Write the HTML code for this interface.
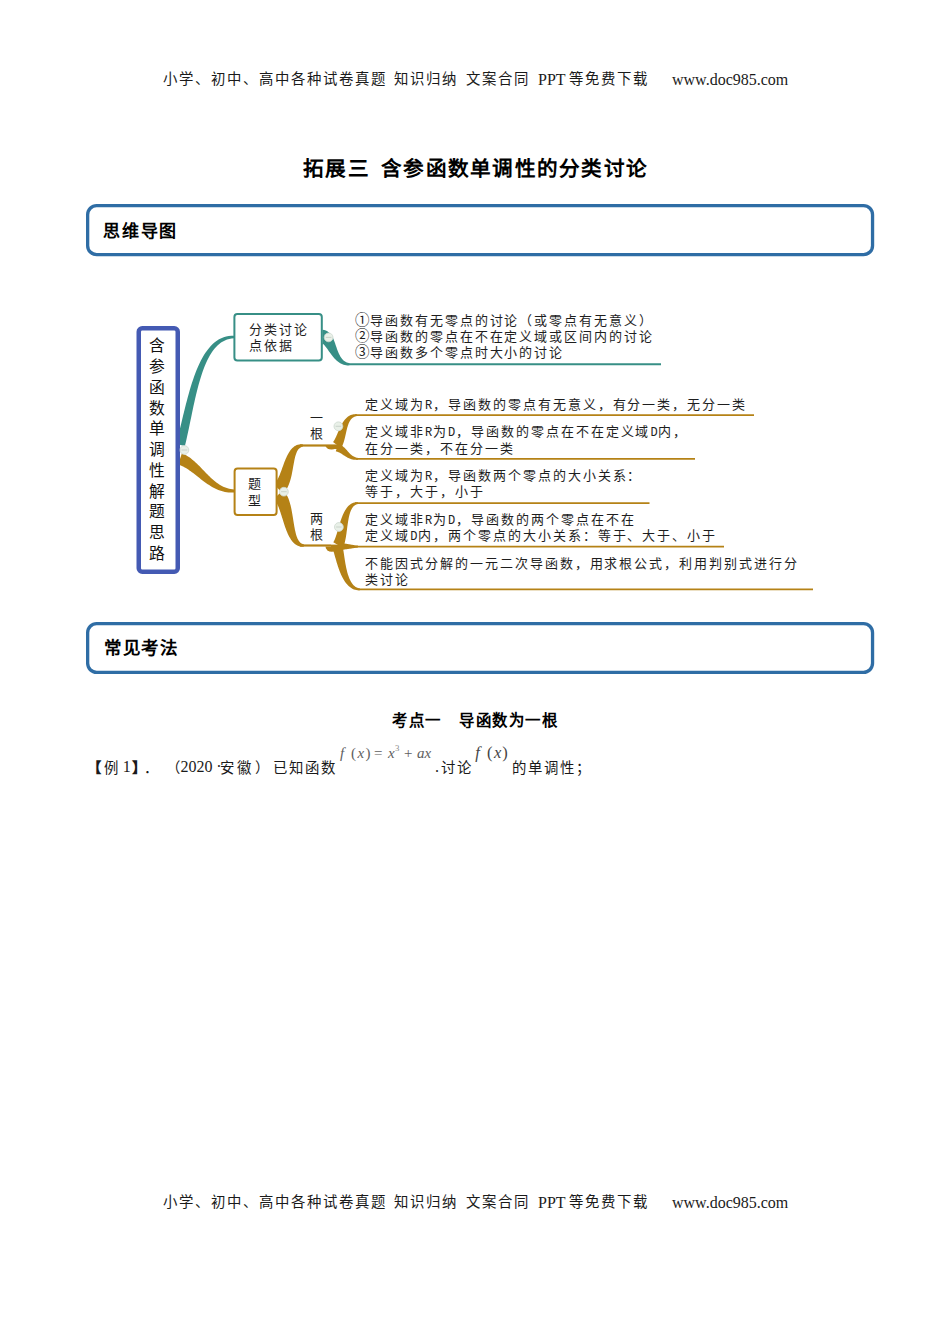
<!DOCTYPE html>
<html lang="zh-CN"><head><meta charset="utf-8"><title>拓展三 含参函数单调性的分类讨论</title>
<style>
html,body{margin:0;padding:0;background:#fff;}
body{width:950px;height:1344px;position:relative;overflow:hidden;font-family:"Liberation Serif", serif;}
.mm{position:absolute;left:0;top:0;}
.t{position:absolute;white-space:pre;color:#000;}
.m{font-family:"Liberation Mono", monospace;font-size:12px;letter-spacing:0;display:inline-block;width:8px;}
.c{display:inline-block;width:14.95px;font-size:14.5px;letter-spacing:0;}
.f{font-family:"Liberation Serif", serif;color:#555;white-space:nowrap;}
.f sup{font-size:8px;vertical-align:6px;line-height:0;}
</style></head><body>
<svg class="mm" width="950" height="1344" viewBox="0 0 950 1344">
<rect x="87.65" y="205.65" width="784.9" height="49" rx="9" fill="none" stroke="#2f6da5" stroke-width="3.3"/>
<rect x="87.65" y="623.65" width="784.9" height="48.7" rx="9" fill="none" stroke="#2f6da5" stroke-width="3.3"/>
<path d="M184.86,446.11 L185.70,442.66 L186.51,439.16 L187.30,435.60 L188.08,432.01 L188.85,428.38 L189.61,424.73 L190.37,421.07 L191.13,417.39 L191.89,413.71 L192.66,410.03 L193.44,406.37 L194.24,402.73 L195.05,399.11 L195.88,395.53 L196.73,391.99 L197.62,388.50 L198.52,385.07 L199.47,381.70 L200.44,378.41 L201.45,375.19 L202.51,372.06 L203.60,369.03 L204.75,366.10 L205.94,363.28 L207.18,360.58 L208.47,358.00 L209.82,355.55 L211.23,353.24 L212.69,351.07 L214.23,349.06 L215.82,347.20 L217.49,345.50 L219.23,343.96 L221.04,342.60 L222.94,341.41 L224.94,340.40 L227.03,339.57 L229.24,338.94 L231.56,338.51 L234.00,338.30 L234.00,335.70 L231.30,335.72 L228.68,335.98 L226.14,336.48 L223.68,337.22 L221.30,338.18 L219.02,339.36 L216.82,340.75 L214.71,342.33 L212.69,344.09 L210.76,346.04 L208.91,348.14 L207.14,350.41 L205.44,352.82 L203.82,355.36 L202.27,358.04 L200.78,360.83 L199.36,363.74 L197.99,366.75 L196.68,369.86 L195.42,373.06 L194.21,376.34 L193.04,379.69 L191.91,383.11 L190.82,386.59 L189.77,390.11 L188.75,393.69 L187.76,397.29 L186.79,400.93 L185.84,404.58 L184.92,408.25 L184.01,411.92 L183.11,415.59 L182.23,419.25 L181.35,422.88 L180.48,426.50 L179.62,430.07 L178.75,433.61 L177.88,437.09 L177.01,440.52 L176.14,443.89 Z" fill="#378f86"/>
<path d="M322.50,344.70 L322.15,344.44 L321.86,344.17 L321.69,343.90 L321.66,343.67 L321.77,343.53 L322.00,343.50 L322.34,343.58 L322.75,343.80 L323.22,344.12 L323.73,344.56 L324.27,345.09 L324.83,345.71 L325.41,346.41 L326.01,347.17 L326.62,347.98 L327.24,348.85 L327.88,349.75 L328.53,350.69 L329.20,351.64 L329.88,352.62 L330.59,353.61 L331.31,354.59 L332.06,355.58 L332.83,356.56 L333.63,357.52 L334.47,358.46 L335.33,359.37 L336.23,360.24 L337.17,361.07 L338.14,361.85 L339.16,362.57 L340.22,363.23 L341.31,363.81 L342.45,364.31 L343.62,364.72 L344.83,365.04 L346.08,365.26 L347.35,365.38 L348.66,365.39 L350.00,365.30 L350.00,363.30 L348.85,363.11 L347.78,362.83 L346.79,362.47 L345.88,362.04 L345.03,361.55 L344.25,361.00 L343.51,360.39 L342.83,359.73 L342.19,359.03 L341.59,358.28 L341.02,357.49 L340.49,356.65 L339.98,355.78 L339.49,354.87 L339.03,353.93 L338.59,352.96 L338.17,351.97 L337.76,350.96 L337.37,349.93 L336.99,348.88 L336.62,347.83 L336.26,346.76 L335.89,345.70 L335.53,344.63 L335.17,343.56 L334.79,342.50 L334.41,341.44 L334.00,340.39 L333.57,339.35 L333.10,338.31 L332.58,337.27 L332.00,336.24 L331.34,335.21 L330.57,334.20 L329.66,333.20 L328.58,332.25 L327.32,331.37 L325.87,330.62 L324.24,330.06 L322.50,329.70 Z" fill="#378f86"/>
<path d="M350,363.3 L661,363.3 L661,365.3 L350,365.3 Z" fill="#378f86"/>
<path d="M178.10,464.69 L179.17,465.00 L180.25,465.36 L181.36,465.78 L182.47,466.27 L183.61,466.82 L184.76,467.44 L185.92,468.10 L187.10,468.83 L188.29,469.60 L189.49,470.43 L190.70,471.29 L191.92,472.19 L193.16,473.12 L194.41,474.09 L195.67,475.07 L196.94,476.08 L198.22,477.10 L199.53,478.12 L200.84,479.15 L202.18,480.18 L203.53,481.20 L204.90,482.21 L206.29,483.20 L207.70,484.17 L209.13,485.12 L210.59,486.03 L212.08,486.90 L213.59,487.74 L215.13,488.52 L216.70,489.25 L218.29,489.92 L219.92,490.53 L221.57,491.06 L223.26,491.53 L224.97,491.91 L226.72,492.21 L228.49,492.43 L230.30,492.55 L232.13,492.57 L234.00,492.50 L234.00,489.50 L232.31,489.33 L230.68,489.07 L229.10,488.74 L227.57,488.32 L226.08,487.83 L224.64,487.27 L223.24,486.65 L221.87,485.97 L220.54,485.23 L219.24,484.44 L217.97,483.60 L216.72,482.71 L215.49,481.78 L214.28,480.80 L213.09,479.80 L211.92,478.75 L210.75,477.68 L209.60,476.58 L208.46,475.46 L207.32,474.32 L206.19,473.16 L205.07,471.99 L203.94,470.82 L202.81,469.63 L201.67,468.45 L200.53,467.27 L199.37,466.09 L198.21,464.93 L197.03,463.77 L195.83,462.64 L194.60,461.52 L193.35,460.44 L192.07,459.38 L190.75,458.35 L189.40,457.37 L188.00,456.43 L186.56,455.55 L185.06,454.73 L183.51,453.98 L181.90,453.31 Z" fill="#b58216"/>
<path d="M282.99,493.70 L284.16,492.46 L285.21,491.16 L286.15,489.80 L286.99,488.40 L287.75,486.97 L288.42,485.51 L289.03,484.03 L289.57,482.53 L290.07,481.02 L290.52,479.49 L290.93,477.96 L291.30,476.42 L291.65,474.88 L291.97,473.35 L292.27,471.82 L292.56,470.30 L292.83,468.80 L293.09,467.31 L293.35,465.85 L293.60,464.41 L293.86,463.00 L294.12,461.63 L294.38,460.31 L294.65,459.02 L294.94,457.78 L295.24,456.60 L295.55,455.47 L295.88,454.41 L296.24,453.40 L296.61,452.47 L297.01,451.59 L297.44,450.79 L297.90,450.04 L298.40,449.36 L298.95,448.74 L299.57,448.17 L300.27,447.67 L301.07,447.23 L301.97,446.87 L303.00,446.60 L303.00,444.40 L301.70,444.25 L300.41,444.25 L299.14,444.39 L297.90,444.67 L296.70,445.10 L295.54,445.66 L294.44,446.35 L293.39,447.15 L292.40,448.05 L291.47,449.03 L290.59,450.10 L289.77,451.23 L288.99,452.41 L288.25,453.66 L287.56,454.94 L286.90,456.27 L286.27,457.63 L285.66,459.01 L285.08,460.42 L284.52,461.84 L283.98,463.27 L283.45,464.71 L282.92,466.14 L282.41,467.57 L281.90,468.99 L281.39,470.38 L280.89,471.75 L280.38,473.08 L279.86,474.38 L279.34,475.63 L278.81,476.83 L278.28,477.97 L277.74,479.05 L277.20,480.05 L276.65,480.97 L276.10,481.81 L275.56,482.57 L275.03,483.23 L274.51,483.81 L274.01,484.30 Z" fill="#b58216"/>
<path d="M273.90,499.10 L274.37,499.58 L274.88,500.19 L275.41,500.92 L275.96,501.77 L276.52,502.73 L277.08,503.81 L277.64,504.98 L278.20,506.25 L278.74,507.60 L279.28,509.02 L279.82,510.51 L280.34,512.05 L280.87,513.64 L281.39,515.27 L281.91,516.94 L282.43,518.62 L282.96,520.32 L283.50,522.03 L284.05,523.74 L284.61,525.45 L285.19,527.15 L285.79,528.82 L286.41,530.47 L287.07,532.09 L287.75,533.67 L288.47,535.20 L289.23,536.68 L290.04,538.10 L290.89,539.45 L291.80,540.72 L292.76,541.90 L293.79,542.99 L294.88,543.97 L296.04,544.82 L297.26,545.53 L298.54,546.09 L299.87,546.48 L301.22,546.69 L302.60,546.73 L304.00,546.60 L304.00,544.40 L302.92,544.12 L301.97,543.73 L301.13,543.25 L300.39,542.68 L299.73,542.03 L299.12,541.31 L298.57,540.50 L298.06,539.61 L297.58,538.64 L297.12,537.58 L296.70,536.44 L296.30,535.22 L295.93,533.92 L295.57,532.55 L295.24,531.12 L294.92,529.63 L294.62,528.08 L294.32,526.49 L294.04,524.85 L293.77,523.17 L293.49,521.47 L293.22,519.74 L292.95,517.99 L292.66,516.22 L292.37,514.45 L292.06,512.67 L291.74,510.89 L291.39,509.12 L291.01,507.36 L290.61,505.62 L290.16,503.89 L289.68,502.19 L289.14,500.51 L288.54,498.87 L287.88,497.25 L287.14,495.68 L286.31,494.15 L285.37,492.66 L284.30,491.24 L283.10,489.90 Z" fill="#b58216"/>
<path d="M300,444.4 L331,444.4 L331,446.6 L300,446.6 Z" fill="#b58216"/>
<path d="M300,544.4 L331,544.4 L331,546.6 L300,546.6 Z" fill="#b58216"/>
<path d="M341.00,448.00 L341.59,447.11 L342.10,446.19 L342.55,445.25 L342.96,444.30 L343.33,443.33 L343.67,442.35 L343.98,441.36 L344.26,440.37 L344.53,439.36 L344.79,438.34 L345.03,437.32 L345.26,436.30 L345.49,435.28 L345.72,434.26 L345.94,433.24 L346.17,432.23 L346.39,431.23 L346.62,430.24 L346.86,429.26 L347.11,428.31 L347.37,427.37 L347.63,426.45 L347.92,425.56 L348.21,424.70 L348.53,423.87 L348.86,423.07 L349.21,422.31 L349.58,421.58 L349.97,420.89 L350.39,420.23 L350.84,419.62 L351.32,419.05 L351.84,418.51 L352.40,418.02 L353.01,417.57 L353.67,417.16 L354.40,416.81 L355.19,416.51 L356.06,416.27 L357.00,416.10 L357.00,414.30 L355.89,414.21 L354.81,414.21 L353.76,414.30 L352.73,414.47 L351.73,414.74 L350.76,415.08 L349.82,415.51 L348.92,416.02 L348.06,416.59 L347.23,417.23 L346.45,417.93 L345.70,418.67 L344.99,419.47 L344.32,420.30 L343.68,421.17 L343.07,422.07 L342.49,423.00 L341.93,423.95 L341.40,424.91 L340.89,425.89 L340.40,426.89 L339.93,427.88 L339.48,428.88 L339.03,429.88 L338.61,430.87 L338.19,431.85 L337.78,432.82 L337.38,433.77 L336.98,434.69 L336.59,435.59 L336.20,436.46 L335.82,437.29 L335.44,438.08 L335.06,438.82 L334.69,439.51 L334.32,440.14 L333.96,440.71 L333.62,441.21 L333.29,441.64 L333.00,442.00 Z" fill="#b58216"/>
<path d="M335.81,451.32 L336.24,451.43 L336.68,451.54 L337.11,451.67 L337.54,451.82 L337.98,451.98 L338.41,452.16 L338.85,452.36 L339.30,452.57 L339.74,452.80 L340.20,453.05 L340.65,453.31 L341.12,453.58 L341.59,453.87 L342.06,454.17 L342.54,454.48 L343.03,454.80 L343.52,455.13 L344.02,455.46 L344.53,455.79 L345.05,456.12 L345.58,456.45 L346.11,456.78 L346.66,457.10 L347.22,457.42 L347.79,457.72 L348.38,458.01 L348.98,458.29 L349.59,458.55 L350.21,458.79 L350.85,459.02 L351.50,459.21 L352.17,459.39 L352.85,459.53 L353.54,459.65 L354.25,459.74 L354.97,459.80 L355.70,459.82 L356.45,459.82 L357.22,459.78 L358.00,459.70 L358.00,457.90 L357.31,457.79 L356.65,457.66 L356.02,457.49 L355.43,457.30 L354.86,457.09 L354.32,456.86 L353.81,456.61 L353.32,456.34 L352.85,456.06 L352.40,455.76 L351.97,455.44 L351.55,455.11 L351.14,454.77 L350.74,454.41 L350.35,454.05 L349.96,453.67 L349.58,453.28 L349.20,452.88 L348.83,452.47 L348.45,452.06 L348.07,451.63 L347.69,451.20 L347.30,450.76 L346.91,450.31 L346.51,449.86 L346.09,449.41 L345.67,448.96 L345.23,448.50 L344.78,448.05 L344.30,447.59 L343.81,447.14 L343.30,446.70 L342.76,446.27 L342.19,445.84 L341.60,445.43 L340.98,445.03 L340.33,444.65 L339.65,444.30 L338.94,443.97 L338.19,443.68 Z" fill="#b58216"/>
<path d="M355,414.3 L754,414.3 L754,416.1 L355,416.1 Z" fill="#b58216"/>
<path d="M356,457.9 L695,457.9 L695,459.7 L356,459.7 Z" fill="#b58216"/>
<path d="M325.5,445.5 A6,4 0 0 0 337.5,445.5 Z" fill="#b58216"/>
<path d="M331,444.4 L338,444.4 L338,449 L331,449 Z" fill="#b58216"/>
<path d="M342.72,547.83 L343.30,546.70 L343.79,545.54 L344.22,544.35 L344.59,543.14 L344.92,541.89 L345.21,540.62 L345.48,539.33 L345.73,538.00 L345.96,536.66 L346.17,535.29 L346.38,533.90 L346.57,532.50 L346.76,531.09 L346.95,529.67 L347.13,528.25 L347.32,526.83 L347.51,525.42 L347.71,524.02 L347.92,522.63 L348.14,521.26 L348.37,519.91 L348.62,518.59 L348.88,517.31 L349.17,516.06 L349.47,514.86 L349.79,513.70 L350.14,512.60 L350.51,511.55 L350.90,510.56 L351.33,509.63 L351.78,508.76 L352.27,507.96 L352.78,507.23 L353.34,506.57 L353.95,505.97 L354.61,505.44 L355.33,504.98 L356.13,504.60 L357.02,504.30 L358.00,504.10 L358.00,502.30 L356.79,502.22 L355.60,502.26 L354.44,502.45 L353.31,502.76 L352.21,503.20 L351.16,503.76 L350.16,504.44 L349.21,505.21 L348.30,506.08 L347.45,507.02 L346.65,508.04 L345.89,509.13 L345.17,510.27 L344.50,511.47 L343.86,512.72 L343.25,514.00 L342.68,515.32 L342.13,516.67 L341.61,518.05 L341.11,519.44 L340.63,520.85 L340.17,522.27 L339.73,523.68 L339.30,525.10 L338.89,526.51 L338.48,527.90 L338.08,529.27 L337.69,530.62 L337.30,531.94 L336.92,533.21 L336.54,534.44 L336.16,535.62 L335.78,536.74 L335.40,537.79 L335.02,538.77 L334.64,539.66 L334.27,540.46 L333.91,541.15 L333.58,541.72 L333.28,542.17 Z" fill="#b58216"/>
<path d="M338.00,550.50 L338.52,550.42 L339.04,550.35 L339.55,550.27 L340.06,550.19 L340.57,550.12 L341.08,550.04 L341.58,549.97 L342.08,549.89 L342.58,549.82 L343.08,549.74 L343.57,549.67 L344.06,549.59 L344.56,549.52 L345.05,549.44 L345.54,549.37 L346.03,549.30 L346.52,549.22 L347.00,549.15 L347.49,549.07 L347.98,549.00 L348.47,548.93 L348.96,548.85 L349.45,548.78 L349.94,548.70 L350.43,548.63 L350.92,548.56 L351.41,548.48 L351.90,548.41 L352.40,548.33 L352.90,548.26 L353.40,548.18 L353.90,548.11 L354.40,548.03 L354.91,547.96 L355.41,547.88 L355.92,547.81 L356.44,547.73 L356.96,547.65 L357.48,547.58 L358.00,547.50 L358.00,545.70 L357.48,545.62 L356.96,545.54 L356.44,545.47 L355.93,545.39 L355.42,545.31 L354.92,545.23 L354.41,545.15 L353.91,545.07 L353.41,544.99 L352.92,544.91 L352.42,544.83 L351.93,544.75 L351.44,544.67 L350.95,544.59 L350.46,544.51 L349.97,544.42 L349.48,544.34 L348.99,544.26 L348.51,544.18 L348.02,544.10 L347.53,544.02 L347.04,543.94 L346.56,543.86 L346.07,543.78 L345.58,543.69 L345.09,543.61 L344.60,543.53 L344.10,543.45 L343.61,543.37 L343.11,543.29 L342.61,543.21 L342.11,543.13 L341.61,543.05 L341.10,542.97 L340.59,542.89 L340.08,542.81 L339.57,542.73 L339.05,542.66 L338.53,542.58 L338.00,542.50 Z" fill="#b58216"/>
<path d="M333.18,550.32 L333.41,551.08 L333.67,551.92 L333.94,552.84 L334.23,553.83 L334.53,554.89 L334.84,556.00 L335.17,557.15 L335.51,558.36 L335.86,559.60 L336.23,560.87 L336.62,562.18 L337.02,563.51 L337.44,564.85 L337.88,566.21 L338.34,567.58 L338.82,568.96 L339.32,570.33 L339.85,571.70 L340.41,573.06 L340.99,574.40 L341.60,575.73 L342.23,577.03 L342.91,578.30 L343.61,579.54 L344.35,580.75 L345.12,581.90 L345.93,583.01 L346.78,584.07 L347.67,585.06 L348.60,585.99 L349.57,586.85 L350.59,587.62 L351.65,588.31 L352.74,588.91 L353.88,589.40 L355.05,589.79 L356.25,590.07 L357.48,590.23 L358.73,590.27 L360.00,590.20 L360.00,588.40 L358.92,588.22 L357.91,587.94 L356.98,587.58 L356.10,587.14 L355.29,586.63 L354.52,586.06 L353.80,585.41 L353.12,584.70 L352.48,583.94 L351.87,583.11 L351.29,582.22 L350.74,581.28 L350.22,580.29 L349.72,579.24 L349.25,578.15 L348.81,577.02 L348.39,575.85 L347.99,574.65 L347.62,573.41 L347.26,572.15 L346.93,570.86 L346.62,569.56 L346.32,568.24 L346.05,566.92 L345.78,565.59 L345.54,564.26 L345.30,562.93 L345.08,561.61 L344.87,560.30 L344.67,559.00 L344.48,557.73 L344.30,556.47 L344.12,555.25 L343.94,554.05 L343.77,552.89 L343.59,551.77 L343.42,550.68 L343.23,549.64 L343.04,548.64 L342.82,547.68 Z" fill="#b58216"/>
<path d="M355,502.3 L649.5,502.3 L649.5,504.1 L355,504.1 Z" fill="#b58216"/>
<path d="M356,545.7 L724,545.7 L724,547.5 L356,547.5 Z" fill="#b58216"/>
<path d="M358,588.4 L813,588.4 L813,590.2 L358,590.2 Z" fill="#b58216"/>
<path d="M325.5,546.5 A6,5 0 0 0 338,546.5 Z" fill="#b58216"/>
<path d="M331,544.6 L339,544.6 L339,550 L331,550 Z" fill="#b58216"/>
<rect x="234.4" y="313.9" width="87.4" height="46.7" rx="3" fill="#fff" stroke="#378f86" stroke-width="2"/>
<rect x="234.6" y="468.4" width="42" height="46.6" rx="3" fill="#fff" stroke="#b58216" stroke-width="2"/>
<rect x="138.75" y="328.25" width="39" height="243.5" rx="3.5" fill="#fff" stroke="#445ab3" stroke-width="4.5"/>
<g fill="#e9f0e8" stroke="#cdd8cf" stroke-width="0.8">
<circle cx="184.4" cy="450" r="4.4"/>
<circle cx="328.6" cy="337.4" r="4.4"/>
<circle cx="283.9" cy="491.7" r="4.4"/>
<circle cx="338.4" cy="426.3" r="4.4"/>
<circle cx="338.9" cy="527" r="4.4"/>
</g><g stroke="#c2ccc3" stroke-width="0.8">
<line x1="181.6" y1="450" x2="187.20000000000002" y2="450"/>
<line x1="325.8" y1="337.4" x2="331.40000000000003" y2="337.4"/>
<line x1="281.09999999999997" y1="491.7" x2="286.7" y2="491.7"/>
<line x1="335.59999999999997" y1="426.3" x2="341.2" y2="426.3"/>
<line x1="336.09999999999997" y1="527" x2="341.7" y2="527"/>
</g></svg>
<div class="t" style="left:162.80px;top:71.94px;font-size:14.4px;line-height:14.4px;letter-spacing:2px;font-weight:normal;font-family:'Liberation Serif', serif;color:#1a1a1a;">小学、初中、高中各种试卷真题</div>
<div class="t" style="left:393.80px;top:71.94px;font-size:14.4px;line-height:14.4px;letter-spacing:2px;font-weight:normal;font-family:'Liberation Serif', serif;color:#1a1a1a;">知识归纳</div>
<div class="t" style="left:465.80px;top:71.94px;font-size:14.4px;line-height:14.4px;letter-spacing:2px;font-weight:normal;font-family:'Liberation Serif', serif;color:#1a1a1a;">文案合同</div>
<div class="t" style="left:538.00px;top:71.96px;font-size:16px;line-height:16px;letter-spacing:0px;font-weight:normal;font-family:'Liberation Serif', serif;color:#1a1a1a;">PPT</div>
<div class="t" style="left:568.50px;top:71.94px;font-size:14.4px;line-height:14.4px;letter-spacing:2px;font-weight:normal;font-family:'Liberation Serif', serif;color:#1a1a1a;">等免费下载</div>
<div class="t" style="left:672.00px;top:71.96px;font-size:16px;line-height:16px;letter-spacing:0px;font-weight:normal;font-family:'Liberation Serif', serif;color:#1a1a1a;">www.doc985.com</div>
<div class="t" style="left:162.80px;top:1194.74px;font-size:14.4px;line-height:14.4px;letter-spacing:2px;font-weight:normal;font-family:'Liberation Serif', serif;color:#1a1a1a;">小学、初中、高中各种试卷真题</div>
<div class="t" style="left:393.80px;top:1194.74px;font-size:14.4px;line-height:14.4px;letter-spacing:2px;font-weight:normal;font-family:'Liberation Serif', serif;color:#1a1a1a;">知识归纳</div>
<div class="t" style="left:465.80px;top:1194.74px;font-size:14.4px;line-height:14.4px;letter-spacing:2px;font-weight:normal;font-family:'Liberation Serif', serif;color:#1a1a1a;">文案合同</div>
<div class="t" style="left:538.00px;top:1194.76px;font-size:16px;line-height:16px;letter-spacing:0px;font-weight:normal;font-family:'Liberation Serif', serif;color:#1a1a1a;">PPT</div>
<div class="t" style="left:568.50px;top:1194.74px;font-size:14.4px;line-height:14.4px;letter-spacing:2px;font-weight:normal;font-family:'Liberation Serif', serif;color:#1a1a1a;">等免费下载</div>
<div class="t" style="left:672.00px;top:1194.76px;font-size:16px;line-height:16px;letter-spacing:0px;font-weight:normal;font-family:'Liberation Serif', serif;color:#1a1a1a;">www.doc985.com</div>
<div class="t" style="left:303.00px;top:159.21px;font-size:20.6px;line-height:20.6px;letter-spacing:1.25px;font-weight:bold;font-family:'Liberation Serif', serif;color:#000;">拓展三</div>
<div class="t" style="left:381.00px;top:159.21px;font-size:20.6px;line-height:20.6px;letter-spacing:1.25px;font-weight:bold;font-family:'Liberation Serif', serif;color:#000;">含参函数单调性的分类讨论</div>
<div class="t" style="left:103.40px;top:222.67px;font-size:17px;line-height:17px;letter-spacing:1.7px;font-weight:bold;font-family:'Liberation Serif', serif;color:#000;">思维导图</div>
<div class="t" style="left:104.00px;top:639.88px;font-size:17.5px;line-height:17.5px;letter-spacing:1.5px;font-weight:bold;font-family:'Liberation Serif', serif;color:#000;">常见考法</div>
<div class="t" style="left:148.80px;top:338.46px;font-size:15.8px;line-height:15.8px;letter-spacing:0px;font-weight:normal;font-family:'Liberation Serif', serif;color:#111;">含</div>
<div class="t" style="left:148.80px;top:359.21px;font-size:15.8px;line-height:15.8px;letter-spacing:0px;font-weight:normal;font-family:'Liberation Serif', serif;color:#111;">参</div>
<div class="t" style="left:148.80px;top:379.96px;font-size:15.8px;line-height:15.8px;letter-spacing:0px;font-weight:normal;font-family:'Liberation Serif', serif;color:#111;">函</div>
<div class="t" style="left:148.80px;top:400.71px;font-size:15.8px;line-height:15.8px;letter-spacing:0px;font-weight:normal;font-family:'Liberation Serif', serif;color:#111;">数</div>
<div class="t" style="left:148.80px;top:421.46px;font-size:15.8px;line-height:15.8px;letter-spacing:0px;font-weight:normal;font-family:'Liberation Serif', serif;color:#111;">单</div>
<div class="t" style="left:148.80px;top:442.21px;font-size:15.8px;line-height:15.8px;letter-spacing:0px;font-weight:normal;font-family:'Liberation Serif', serif;color:#111;">调</div>
<div class="t" style="left:148.80px;top:462.96px;font-size:15.8px;line-height:15.8px;letter-spacing:0px;font-weight:normal;font-family:'Liberation Serif', serif;color:#111;">性</div>
<div class="t" style="left:148.80px;top:483.71px;font-size:15.8px;line-height:15.8px;letter-spacing:0px;font-weight:normal;font-family:'Liberation Serif', serif;color:#111;">解</div>
<div class="t" style="left:148.80px;top:504.46px;font-size:15.8px;line-height:15.8px;letter-spacing:0px;font-weight:normal;font-family:'Liberation Serif', serif;color:#111;">题</div>
<div class="t" style="left:148.80px;top:525.21px;font-size:15.8px;line-height:15.8px;letter-spacing:0px;font-weight:normal;font-family:'Liberation Serif', serif;color:#111;">思</div>
<div class="t" style="left:148.80px;top:545.96px;font-size:15.8px;line-height:15.8px;letter-spacing:0px;font-weight:normal;font-family:'Liberation Serif', serif;color:#111;">路</div>
<div class="t" style="left:249.20px;top:322.73px;font-size:13px;line-height:13px;letter-spacing:1.9px;font-weight:normal;font-family:'Liberation Serif', serif;color:#1e1e1e;">分类讨论</div>
<div class="t" style="left:249.20px;top:338.73px;font-size:13px;line-height:13px;letter-spacing:1.9px;font-weight:normal;font-family:'Liberation Serif', serif;color:#1e1e1e;">点依据</div>
<div class="t" style="left:248.20px;top:476.63px;font-size:13px;line-height:13px;letter-spacing:0px;font-weight:normal;font-family:'Liberation Serif', serif;color:#1e1e1e;">题</div>
<div class="t" style="left:248.20px;top:493.83px;font-size:13px;line-height:13px;letter-spacing:0px;font-weight:normal;font-family:'Liberation Serif', serif;color:#1e1e1e;">型</div>
<div class="t" style="left:309.80px;top:410.63px;font-size:13px;line-height:13px;letter-spacing:0px;font-weight:normal;font-family:'Liberation Serif', serif;color:#1e1e1e;">一</div>
<div class="t" style="left:309.80px;top:426.63px;font-size:13px;line-height:13px;letter-spacing:0px;font-weight:normal;font-family:'Liberation Serif', serif;color:#1e1e1e;">根</div>
<div class="t" style="left:309.80px;top:511.73px;font-size:13px;line-height:13px;letter-spacing:0px;font-weight:normal;font-family:'Liberation Serif', serif;color:#1e1e1e;">两</div>
<div class="t" style="left:309.80px;top:527.93px;font-size:13px;line-height:13px;letter-spacing:0px;font-weight:normal;font-family:'Liberation Serif', serif;color:#1e1e1e;">根</div>
<div class="t" style="left:355.00px;top:313.53px;font-size:13px;line-height:13px;letter-spacing:1.95px;font-weight:normal;font-family:'Liberation Serif', serif;color:#1e1e1e;"><span class='c'>①</span>导函数有无零点的讨论（或零点有无意义）</div>
<div class="t" style="left:355.00px;top:329.98px;font-size:13px;line-height:13px;letter-spacing:1.95px;font-weight:normal;font-family:'Liberation Serif', serif;color:#1e1e1e;"><span class='c'>②</span>导函数的零点在不在定义域或区间内的讨论</div>
<div class="t" style="left:355.00px;top:346.43px;font-size:13px;line-height:13px;letter-spacing:1.95px;font-weight:normal;font-family:'Liberation Serif', serif;color:#1e1e1e;"><span class='c'>③</span>导函数多个零点时大小的讨论</div>
<div class="t" style="left:365.30px;top:397.93px;font-size:13px;line-height:13px;letter-spacing:1.95px;font-weight:normal;font-family:'Liberation Serif', serif;color:#1e1e1e;">定义域为<span class='m'>R</span>，导函数的零点有无意义，有分一类，无分一类</div>
<div class="t" style="left:365.30px;top:425.43px;font-size:13px;line-height:13px;letter-spacing:1.95px;font-weight:normal;font-family:'Liberation Serif', serif;color:#1e1e1e;">定义域非<span class='m'>R</span>为<span class='m'>D</span>，导函数的零点在不在定义域<span class='m'>D</span>内，</div>
<div class="t" style="left:365.30px;top:441.53px;font-size:13px;line-height:13px;letter-spacing:1.95px;font-weight:normal;font-family:'Liberation Serif', serif;color:#1e1e1e;">在分一类，不在分一类</div>
<div class="t" style="left:365.30px;top:469.03px;font-size:13px;line-height:13px;letter-spacing:1.95px;font-weight:normal;font-family:'Liberation Serif', serif;color:#1e1e1e;">定义域为<span class='m'>R</span>，导函数两个零点的大小关系：</div>
<div class="t" style="left:365.30px;top:485.13px;font-size:13px;line-height:13px;letter-spacing:1.95px;font-weight:normal;font-family:'Liberation Serif', serif;color:#1e1e1e;">等于，大于，小于</div>
<div class="t" style="left:365.30px;top:513.23px;font-size:13px;line-height:13px;letter-spacing:1.95px;font-weight:normal;font-family:'Liberation Serif', serif;color:#1e1e1e;">定义域非<span class='m'>R</span>为<span class='m'>D</span>，导函数的两个零点在不在</div>
<div class="t" style="left:365.30px;top:529.43px;font-size:13px;line-height:13px;letter-spacing:1.95px;font-weight:normal;font-family:'Liberation Serif', serif;color:#1e1e1e;">定义域<span class='m'>D</span>内，两个零点的大小关系：等于、大于、小于</div>
<div class="t" style="left:365.30px;top:556.53px;font-size:13px;line-height:13px;letter-spacing:1.95px;font-weight:normal;font-family:'Liberation Serif', serif;color:#1e1e1e;">不能因式分解的一元二次导函数，用求根公式，利用判别式进行分</div>
<div class="t" style="left:365.30px;top:573.13px;font-size:13px;line-height:13px;letter-spacing:1.95px;font-weight:normal;font-family:'Liberation Serif', serif;color:#1e1e1e;">类讨论</div>
<div class="t" style="left:392.00px;top:712.75px;font-size:15.4px;line-height:15.4px;letter-spacing:1.5px;font-weight:bold;font-family:'Liberation Serif', serif;color:#000;">考点一</div>
<div class="t" style="left:459.00px;top:712.75px;font-size:15.4px;line-height:15.4px;letter-spacing:1.5px;font-weight:bold;font-family:'Liberation Serif', serif;color:#000;">导函数为一根</div>
<div class="t" style="left:86.70px;top:760.50px;font-size:14.4px;line-height:14.4px;letter-spacing:0px;font-weight:bold;color:#1a1a1a">【</div>
<div class="t" style="left:104.20px;top:760.50px;font-size:14.4px;line-height:14.4px;letter-spacing:0px;font-weight:normal;color:#1a1a1a">例</div>
<div class="t" style="left:122.70px;top:759.16px;font-size:16px;line-height:16px;letter-spacing:0px;font-weight:normal;color:#1a1a1a">1</div>
<div class="t" style="left:132.40px;top:760.50px;font-size:14.4px;line-height:14.4px;letter-spacing:0px;font-weight:bold;color:#1a1a1a">】</div>
<div class="t" style="left:144.00px;top:760.50px;font-size:14.4px;line-height:14.4px;letter-spacing:0px;font-weight:normal;color:#1a1a1a">．</div>
<div class="t" style="left:165.80px;top:760.50px;font-size:14.4px;line-height:14.4px;letter-spacing:0px;font-weight:normal;color:#1a1a1a">（</div>
<div class="t" style="left:180.40px;top:759.16px;font-size:16px;line-height:16px;letter-spacing:0px;font-weight:normal;color:#1a1a1a">2020</div>
<div class="t" style="left:216.30px;top:759.16px;font-size:16px;line-height:16px;letter-spacing:0px;font-weight:normal;color:#1a1a1a">·</div>
<div class="t" style="left:220.20px;top:760.50px;font-size:14.4px;line-height:14.4px;letter-spacing:0px;font-weight:normal;color:#1a1a1a">安</div>
<div class="t" style="left:237.20px;top:760.50px;font-size:14.4px;line-height:14.4px;letter-spacing:0px;font-weight:normal;color:#1a1a1a">徽</div>
<div class="t" style="left:254.80px;top:760.50px;font-size:14.4px;line-height:14.4px;letter-spacing:0px;font-weight:normal;color:#1a1a1a">）</div>
<div class="t" style="left:272.50px;top:760.50px;font-size:14.4px;line-height:14.4px;letter-spacing:2px;font-weight:normal;color:#1a1a1a">已知函数</div>
<div class="t" style="left:435.00px;top:759.16px;font-size:16px;line-height:16px;letter-spacing:0px;font-weight:normal;color:#1a1a1a">.</div>
<div class="t" style="left:441.00px;top:760.50px;font-size:14.4px;line-height:14.4px;letter-spacing:2px;font-weight:normal;color:#1a1a1a">讨论</div>
<div class="t" style="left:512.40px;top:760.50px;font-size:14.4px;line-height:14.4px;letter-spacing:2px;font-weight:normal;color:#1a1a1a">的单调性；</div>
<div class="t f" style="left:340.10px;top:745.70px;font-size:15px;line-height:15px;color:#5e5e5e"><i>f</i></div>
<div class="t f" style="left:351.00px;top:745.70px;font-size:15px;line-height:15px;color:#5e5e5e">(</div>
<div class="t f" style="left:357.50px;top:745.70px;font-size:15px;line-height:15px;color:#5e5e5e"><i>x</i></div>
<div class="t f" style="left:365.40px;top:745.70px;font-size:15px;line-height:15px;color:#5e5e5e">)</div>
<div class="t f" style="left:374.10px;top:745.70px;font-size:15px;line-height:15px;color:#5e5e5e">=</div>
<div class="t f" style="left:388.00px;top:745.70px;font-size:15px;line-height:15px;color:#5e5e5e"><i>x</i></div>
<div class="t f" style="left:404.00px;top:745.70px;font-size:15px;line-height:15px;color:#5e5e5e">+</div>
<div class="t f" style="left:416.90px;top:745.70px;font-size:15px;line-height:15px;color:#5e5e5e"><i>a</i></div>
<div class="t f" style="left:424.50px;top:745.70px;font-size:15px;line-height:15px;color:#5e5e5e"><i>x</i></div>
<div class="t f" style="left:395.10px;top:744.30px;font-size:8.8px;line-height:8.8px;color:#8a8a8a">3</div>
<div class="t f" style="left:475.30px;top:744.90px;font-size:16.5px;line-height:16.5px;color:#444"><i>f</i></div>
<div class="t f" style="left:486.90px;top:744.90px;font-size:16.5px;line-height:16.5px;color:#444">(</div>
<div class="t f" style="left:493.90px;top:744.90px;font-size:16.5px;line-height:16.5px;color:#444"><i>x</i></div>
<div class="t f" style="left:502.20px;top:744.90px;font-size:16.5px;line-height:16.5px;color:#444">)</div>
</body></html>
